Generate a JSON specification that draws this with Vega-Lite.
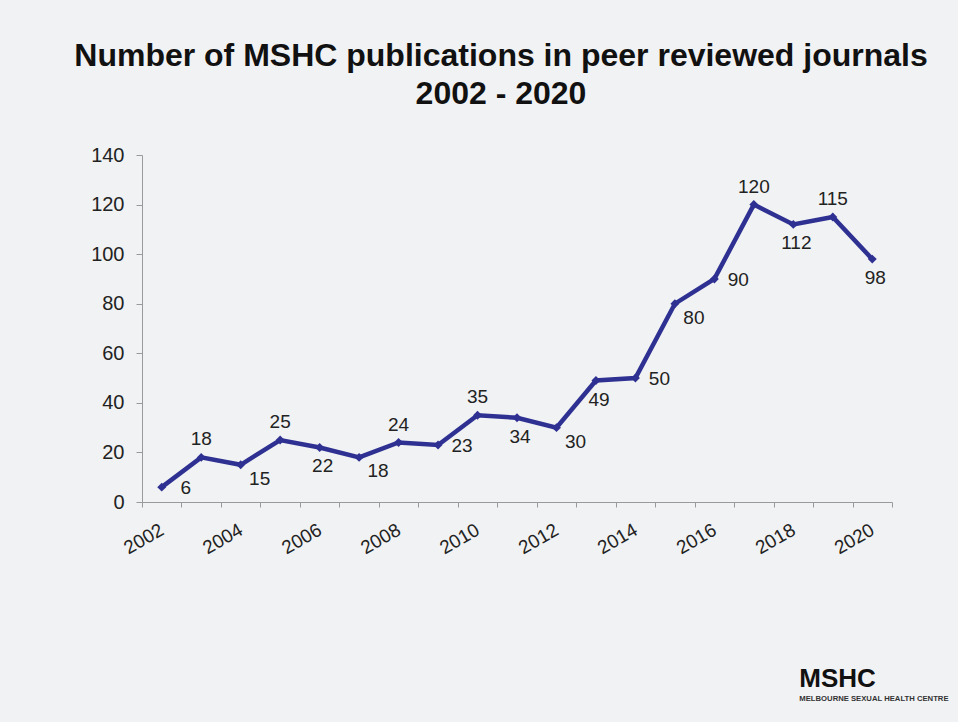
{
  "$schema": "https://vega.github.io/schema/vega-lite/v6.json",
  "width": 750,
  "height": 347,
  "autosize": {"type": "none"},
  "padding": {"left": 142, "top": 155, "right": 66, "bottom": 220},
  "background": "#f1f2f3",
  "config": {"view": {"stroke": null}, "font": "Liberation Sans"},
  "title": {
    "text": ["Number of MSHC publications in peer reviewed journals", "2002 - 2020"],
    "fontSize": 32,
    "fontWeight": "bold",
    "font": "Liberation Sans",
    "color": "#111111",
    "anchor": "middle",
    "dx": -16,
    "offset": 34,
    "lineHeight": 38
  },
  "data": {
    "values": [
      {"year": "2002", "count": 6},
      {"year": "2003", "count": 18},
      {"year": "2004", "count": 15},
      {"year": "2005", "count": 25},
      {"year": "2006", "count": 22},
      {"year": "2007", "count": 18},
      {"year": "2008", "count": 24},
      {"year": "2009", "count": 23},
      {"year": "2010", "count": 35},
      {"year": "2011", "count": 34},
      {"year": "2012", "count": 30},
      {"year": "2013", "count": 49},
      {"year": "2014", "count": 50},
      {"year": "2015", "count": 80},
      {"year": "2016", "count": 90},
      {"year": "2017", "count": 120},
      {"year": "2018", "count": 112},
      {"year": "2019", "count": 115},
      {"year": "2020", "count": 98}
    ]
  },
  "encoding": {
    "x": {
      "field": "year",
      "type": "ordinal",
      "scale": {"type": "band", "paddingInner": 0, "paddingOuter": 0},
      "axis": {
        "title": null,
        "labelAngle": -30,
        "labelAlign": "right",
        "labelBaseline": "middle",
        "labelExpr": "toNumber(datum.value) % 2 == 0 ? datum.value : ''",
        "labelOverlap": false,
        "tickBand": "extent",
        "domainColor": "#9a9a9a",
        "tickColor": "#9a9a9a",
        "tickSize": 5,
        "labelFontSize": 19,
        "labelColor": "#222222",
        "labelPadding": 21,
        "grid": false
      }
    },
    "y": {
      "field": "count",
      "type": "quantitative",
      "scale": {"domain": [0, 140]},
      "axis": {
        "title": null,
        "values": [0, 20, 40, 60, 80, 100, 120, 140],
        "grid": false,
        "domainColor": "#9a9a9a",
        "tickColor": "#9a9a9a",
        "tickSize": 6,
        "labelFontSize": 20,
        "labelColor": "#222222",
        "labelPadding": 12
      }
    }
  },
  "layer": [
    {"mark": {"type": "line", "color": "#2e3192", "strokeWidth": 4.5}},
    {"mark": {"type": "point", "shape": "diamond", "filled": true, "size": 80, "color": "#2e3192", "opacity": 1}},
    {
      "transform": [{"filter": {"field": "year", "oneOf": ["2003", "2005", "2008", "2010", "2017", "2019"]}}],
      "mark": {"type": "text", "dy": -18, "fontSize": 19, "color": "#222222", "baseline": "middle"},
      "encoding": {"text": {"field": "count"}}
    },
    {
      "transform": [{"filter": {"field": "year", "oneOf": ["2006", "2011", "2013", "2018", "2020"]}}],
      "mark": {"type": "text", "dy": 19, "dx": 3, "fontSize": 19, "color": "#222222", "baseline": "middle"},
      "encoding": {"text": {"field": "count"}}
    },
    {
      "transform": [{"filter": {"field": "year", "oneOf": ["2004", "2007", "2012", "2015"]}}],
      "mark": {"type": "text", "dy": 14, "dx": 19, "fontSize": 19, "color": "#222222", "baseline": "middle"},
      "encoding": {"text": {"field": "count"}}
    },
    {
      "transform": [{"filter": {"field": "year", "oneOf": ["2002", "2009", "2014", "2016"]}}],
      "mark": {"type": "text", "dy": 1, "dx": 24, "fontSize": 19, "color": "#222222", "baseline": "middle"},
      "encoding": {"text": {"field": "count"}}
    },
    {
      "data": {"values": [{"label": "MSHC", "year": "2018", "level": -71.5}]},
      "mark": {"type": "text", "align": "left", "baseline": "middle", "fontSize": 26, "fontWeight": "bold", "color": "#111111", "dx": 6},
      "encoding": {
        "x": {"field": "year", "type": "ordinal"},
        "y": {"field": "level", "type": "quantitative"},
        "text": {"field": "label"}
      }
    },
    {
      "data": {"values": [{"label": "MELBOURNE SEXUAL HEALTH CENTRE", "year": "2018", "level": -79.5}]},
      "mark": {"type": "text", "align": "left", "baseline": "middle", "fontSize": 7.7, "fontWeight": "bold", "color": "#333333", "dx": 6},
      "encoding": {
        "x": {"field": "year", "type": "ordinal"},
        "y": {"field": "level", "type": "quantitative"},
        "text": {"field": "label"}
      }
    }
  ]
}
